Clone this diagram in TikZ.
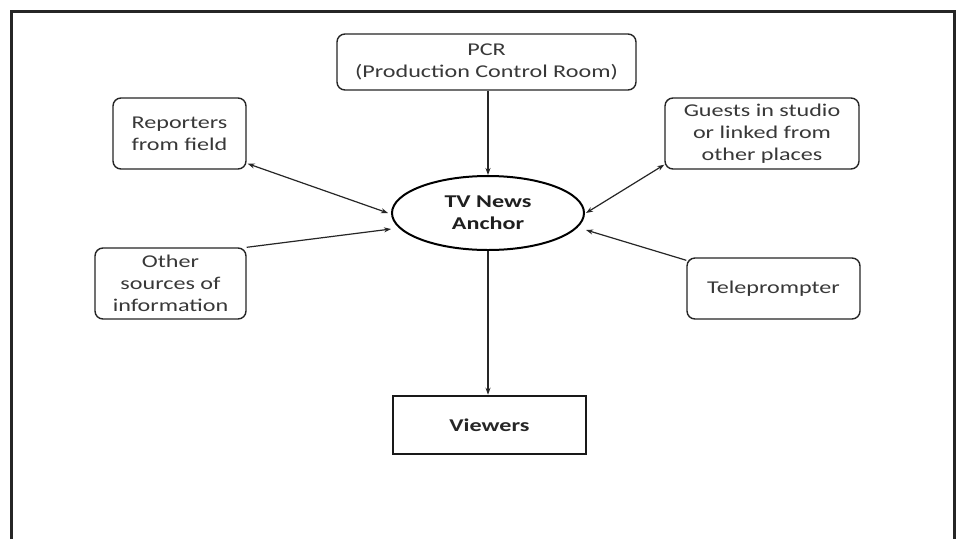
\documentclass[tikz,border=0pt]{standalone}
\usepackage{fontspec}
\setmainfont[FakeStretch=1.34]{Carlito}
\usetikzlibrary{shapes.geometric,arrows.meta}
\begin{document}
\begin{tikzpicture}[x=1pt,y=-1pt,
  txt/.style={font=\fontsize{18}{22}\selectfont, text=black!78, align=center},
  rbox/.style={txt, draw=black!85, line width=1.4pt, rounded corners=8pt, inner sep=0pt},
  anchorshape/.style={ellipse, draw=black, line width=2pt, inner sep=0pt,
     font=\fontsize{18}{22}\selectfont\bfseries, text=black!88, align=center},
  viewbox/.style={draw=black!90, line width=2.6pt, inner sep=0pt,
     font=\fontsize{18}{22}\selectfont\bfseries, text=black!85},
  conn/.style={line width=1.2pt, draw=black!85},
  tip/.style={-{Stealth[length=7pt,width=5pt]}},
  tips/.style={{Stealth[length=7pt,width=5pt]}-{Stealth[length=7pt,width=5pt]}}
]
\useasboundingbox (0,0) rectangle (957,539);
\fill[white] (0,0) rectangle (957,539);
% outer frame
\draw[line width=2.4pt, draw=black!85] (11.5,539) -- (11.5,11.5) -- (954.5,11.5) -- (954.5,539);

\node[rbox, minimum width=299pt, minimum height=56pt] (pcr) at (486.5,62) {PCR\\(Production Control Room)};
\node[rbox, minimum width=133pt, minimum height=71pt] (rep) at (179.5,133.5) {Reporters\\from field};
\node[rbox, minimum width=194pt, minimum height=71pt] (gue) at (762,133.5) {Guests in studio\\or linked from\\other places};
\node[rbox, minimum width=151pt, minimum height=71pt] (oth) at (170.5,283.5) {Other\\sources of\\information};
\node[rbox, minimum width=173pt, minimum height=61pt] (tel) at (773.5,288.5) {Teleprompter};
\node[anchorshape, minimum width=192pt, minimum height=74pt] (anc) at (488,213) {TV News\\Anchor};
\node[viewbox, minimum width=193pt, minimum height=58pt] (view) at (489.5,425) {Viewers};

\draw[conn, tip] (pcr.south -| anc.north) -- (anc.north);
\draw[conn, tip] (anc.south) -- (anc.south |- view.north);
\draw[conn, tips] ([xshift=1pt,yshift=6pt]rep.south east) -- ([xshift=-3pt]anc.west);
\draw[conn, tips] ([yshift=5pt]gue.south west) -- ([xshift=1pt]anc.east);
\draw[conn, tip] (oth.north east) -- ([yshift=-16pt]anc.west);
\draw[conn, tip] ([yshift=-3pt]tel.north west) -- ([xshift=1pt,yshift=-17pt]anc.east);
\end{tikzpicture}
\end{document}
